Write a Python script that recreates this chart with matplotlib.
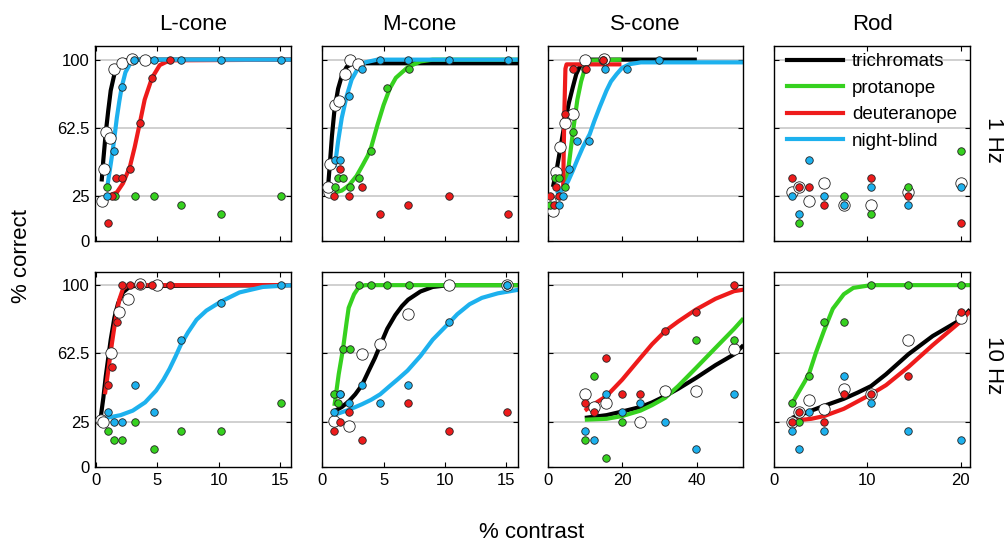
import matplotlib
matplotlib.use('Agg')
import matplotlib.pyplot as plt
from matplotlib.lines import Line2D

plt.rcParams['font.family'] = ['Liberation Sans', 'DejaVu Sans']

# ---------------- labels ----------------
col_titles = ['L-cone', 'M-cone', 'S-cone', 'Rod']
row_labels = ['1 Hz', '10 Hz']
group_names = ['trichromats', 'protanope', 'deuteranope', 'night-blind']
y_ticks = [0, 25, 62.5, 100]
y_tick_labels = ['0', '25', '62.5', '100']
x_ticks_cone = [0, 5, 10, 15]
x_ticks_s = [0, 20, 40]
x_ticks_rod = [0, 10, 20]

rod_contrast = [1.94, 2.73, 3.8, 5.36, 7.48, 10.4, 14.4, 20]
s10_contrast = [10, 12.4, 15.8, 20, 24.9, 31.5, 39.8, 50]

# ---------------- L-cone, 1 Hz ----------------
L1_tri = ([0.46, 0.65, 0.78, 1.14, 1.5, 2.1, 2.9, 4.0], [22, 40, 60, 57, 95, 98, 100.5, 100])
L1_pro = ([0.92, 1.54, 3.16, 4.7, 6.9, 10.2, 15.05], [30, 25, 25, 25, 20, 15, 25])
L1_deu = ([0.95, 1.27, 1.62, 2.16, 2.76, 3.57, 4.57, 6.0], [10, 25, 35, 35, 40, 65, 90, 100])
L1_nb = ([0.92, 1.46, 2.14, 3.1, 4.7, 6.9, 10.2, 15.05], [25, 50, 85, 100, 100, 100, 100, 100])
L1_tri_fit = ([0.46, 0.6, 0.8, 1.0, 1.2, 1.5, 1.9, 2.4, 3.0, 16], [33, 45, 60, 72, 83, 92, 97, 99.5, 100, 100])
L1_deu_fit = ([1.0, 1.7, 2.2, 2.76, 3.16, 3.57, 3.97, 4.57, 5.2, 6.0, 16],
              [25, 27, 32, 41, 52, 65, 78, 90, 97, 99.6, 100])
L1_nb_fit = ([0.92, 1.1, 1.3, 1.5, 1.7, 1.9, 2.1, 2.4, 2.8, 3.3, 16],
             [30, 38, 47, 57, 68, 77, 85, 93, 98, 100, 100])

# ---------------- M-cone, 1 Hz ----------------
M1_tri = ([0.54, 0.46, 0.68, 1.03, 1.35, 1.84, 2.3, 2.9], [27, 30, 42.5, 75, 77, 92, 100, 97.5])
M1_pro = ([1.03, 1.3, 1.7, 2.3, 2.97, 4.0, 5.3, 7.1], [30, 35, 35, 30, 35, 50, 84.5, 94.7])
M1_deu = ([1.0, 1.49, 2.16, 3.24, 4.73, 6.95, 10.3, 15.1], [25, 40, 25, 30, 15, 20, 25, 15])
M1_nb = ([1.03, 1.49, 2.22, 3.24, 4.73, 6.95, 10.3, 15.1], [45, 45, 80, 94.7, 100, 100, 100, 100])
M1_tri_fit = ([0.46, 0.6, 0.8, 1.0, 1.3, 1.6, 2.0, 2.5, 16], [28, 40, 58, 72, 84, 91, 96, 98, 98])
M1_pro_fit = ([1.03, 1.6, 2.2, 2.8, 3.3, 3.7, 4.0, 4.5, 5.0, 5.5, 6.0, 7.0, 8.0, 9.0, 16],
              [27, 28, 31, 36, 42, 47, 52, 64, 75, 84, 90, 96, 99, 100, 100])
M1_nb_fit = ([1.03, 1.3, 1.6, 2.0, 2.4, 2.9, 3.5, 4.5, 16], [41, 55, 68, 80, 89, 95, 98.5, 100, 100])

# ---------------- S-cone, 1 Hz ----------------
S1_tri = ([1.46, 0.74, 2.2, 3.25, 4.6, 6.8, 10.1, 15.0], [17, 22, 38, 52, 65, 70, 100, 100.5])
S1_pro = ([0.74, 1.9, 3.0, 4.6, 6.8, 10.0, 14.9], [20, 35, 35, 30, 60, 94.7, 100])
S1_deu = ([0.74, 1.7, 3.1, 2.2, 4.6, 6.8, 10.2, 14.9], [25, 20, 25, 30, 70, 94.7, 94.7, 100])
S1_nb = ([3.0, 4.1, 5.7, 7.9, 11.1, 15.5, 21.4, 29.8], [20, 25, 40, 55, 55, 94.7, 94.7, 100])
S1_tri_fit = ([1.46, 2.5, 3.5, 4.6, 5.7, 6.8, 7.7, 8.6, 9.5, 10.5, 40],
              [30, 40, 52, 65, 76, 85, 92, 96, 98.7, 100, 100])
S1_pro_fit = ([4.2, 5.0, 5.7, 6.8, 8.0, 9.0, 10.0, 11.3, 19.8], [28, 33, 42, 60, 78, 88, 95, 99.5, 100])
S1_deu_fit = ([4.2, 4.5, 4.8, 5.1, 19.8], [30, 70, 95, 97.4, 97.4])
S1_nb_fit = ([2.4, 4.0, 5.5, 6.8, 8.0, 9.5, 11.3, 12.5, 14.0, 15.8, 17.0, 18.5, 20.0, 22.0, 25.0, 52.5],
             [26, 28.5, 33, 39, 45, 52, 59, 66, 74, 83, 88, 92, 95.5, 97.5, 98.5, 98.5])

# ---------------- Rod, 1 Hz ----------------
R1_tri = (rod_contrast, [27, 30, 22, 32, 20, 20, 27, 32])
R1_pro = ([2.73, 7.48, 10.4, 14.4, 20], [10, 25, 15, 30, 50])
R1_deu = ([1.94, 2.73, 3.8, 5.36, 10.4, 14.4, 20], [35, 30, 30, 20, 35, 25, 10])
R1_nb = (rod_contrast, [25, 15, 45, 25, 20, 30, 20, 30])

# ---------------- L-cone, 10 Hz ----------------
L10_tri = ([0.4, 0.6, 1.19, 1.9, 2.57, 3.57, 5.0], [26, 25, 62.5, 85, 92.5, 100.5, 100])
L10_pro = ([0.95, 1.46, 2.14, 3.16, 4.7, 6.9, 10.2, 15.05], [20, 15, 15, 25, 10, 20, 20, 35])
L10_deu = ([0.95, 1.27, 1.68, 2.14, 2.76, 3.57, 4.57, 6.0], [45, 55, 80, 100, 100, 100, 100, 100])
L10_nb = ([0.95, 1.46, 2.14, 3.16, 4.7, 6.9, 10.2, 15.05], [30, 25, 25, 45, 30, 70, 90, 100])
L10_tri_fit = ([0.4, 0.6, 0.8, 1.0, 1.2, 1.5, 1.8, 2.2, 2.8, 16], [28, 38, 50, 60, 70, 82, 90, 96, 99.5, 100])
L10_deu_fit = ([0.73, 0.9, 1.1, 1.3, 1.5, 1.7, 1.9, 2.2, 2.6, 16], [40, 48, 58, 68, 77, 85, 92, 98, 100, 100])
L10_nb_fit = ([0.86, 2.0, 3.0, 4.0, 4.9, 5.5, 6.0, 6.5, 6.9, 7.5, 8.2, 9.0, 10.2, 11.7, 13.6, 16],
              [27, 28.5, 31, 35.5, 42, 48, 54, 61, 67, 74, 81, 86, 91, 96, 99, 100])

# ---------------- M-cone, 10 Hz ----------------
M10_tri = ([0.95, 2.16, 3.24, 4.73, 6.95, 10.3, 15.05], [25.4, 22.6, 62.3, 67.4, 84.4, 100, 100])
M10_pro = ([1.0, 1.3, 1.49, 1.7, 2.3, 2.97, 4.0, 5.3, 7.1, 15.05], [40, 35, 40, 65, 65, 100, 100, 100, 100, 100])
M10_deu = ([1.0, 1.49, 2.16, 3.24, 6.95, 10.3, 15.05], [20, 25, 30, 15, 35, 20, 30])
M10_nb = ([1.0, 1.49, 2.22, 3.24, 4.73, 6.95, 10.3, 15.05], [30, 40, 35, 45, 35, 45, 80, 100])
M10_tri_fit = ([1.08, 1.6, 2.16, 2.7, 3.24, 3.8, 4.3, 4.73, 5.3, 5.95, 6.5, 7.0, 8.0, 9.0, 10.3, 16],
               [31, 33, 36, 40, 45, 53, 60, 67, 76, 83.5, 88.5, 92, 96.5, 99, 100, 100])
M10_pro_fit = ([1.0, 1.35, 1.7, 2.0, 2.16, 2.6, 3.0, 3.5, 16], [33.6, 51, 65, 80, 87.5, 95, 99, 100, 100])
M10_nb_fit = ([1.0, 2.2, 3.24, 4.0, 4.73, 5.5, 6.2, 6.95, 8.0, 9.0, 10.3, 11.0, 12.0, 13.0, 14.3, 16],
              [28.7, 31.5, 34.5, 37, 40, 44.5, 48.5, 53, 61, 70, 79, 84, 89.5, 93, 95.5, 97.5])

# ---------------- S-cone, 10 Hz ----------------
S10_tri = ([10, 12.4, 15.8, 24.9, 31.5, 39.8, 50], [40, 33, 35, 25, 42, 42, 65])
S10_pro = ([10, 12.4, 15.8, 20, 39.8, 50], [15, 50, 5, 25, 70, 70])
S10_deu = (s10_contrast, [35, 30, 60, 40, 40, 75, 85, 100])
S10_nb = (s10_contrast, [20, 15, 40, 30, 35, 25, 10, 40])
S10_tri_fit = ([10, 15.8, 20, 24.9, 28, 31.5, 35, 39.8, 45, 50, 52.5],
               [27, 28.5, 30.5, 33, 35.5, 39, 43, 49, 56, 62, 67])
S10_pro_fit = ([10, 15.8, 20, 24.9, 28, 31.5, 35, 39.8, 45, 50, 52.5],
               [26, 26.5, 28, 31, 34, 38, 44.5, 54.5, 65.5, 76, 81.7])
S10_deu_fit = ([10, 12.4, 15.8, 20, 24.9, 28, 31.5, 35, 39.8, 45, 50, 52.5],
               [31, 34.5, 39, 48, 60, 67.5, 74.7, 80, 86.6, 92.5, 96.7, 97.5])

# ---------------- Rod, 10 Hz ----------------
R10_tri = (rod_contrast, [25, 30, 37, 32, 43, 40, 70, 82])
R10_pro = (rod_contrast, [35, 25, 50, 80, 80, 100, 100, 100])
R10_deu = ([1.94, 2.73, 5.36, 7.48, 10.4, 14.4, 20], [25, 30, 25, 40, 40, 50, 85])
R10_nb = (rod_contrast, [20, 10, 30, 20, 50, 35, 20, 15])
R10_tri_fit = ([1.94, 3.0, 4.0, 5.36, 7.48, 9.0, 10.4, 12.0, 14.4, 17.0, 20.0, 21.0],
               [27, 29, 31, 33.6, 37.5, 41, 44.5, 51, 62, 72, 81, 86.6])
R10_pro_fit = ([1.94, 2.73, 3.3, 3.8, 4.5, 5.36, 6.3, 7.48, 8.5, 10.4, 21],
               [35, 42, 47, 52, 63, 75, 87, 95, 98.5, 100, 100])
R10_deu_fit = ([1.94, 4.0, 5.36, 7.48, 10.4, 12.0, 14.4, 17.0, 20.0, 21.0],
               [25.4, 26.5, 28, 32, 40, 45, 55, 67, 80, 85.7])

# ---------------- styling ----------------
COLORS = {'tri': 'black', 'pro': '#36d11f', 'deu': '#ee1b1b', 'nb': '#1db1ee'}
ORDER = ['tri', 'pro', 'deu', 'nb']

panels = [
    [dict(pts=dict(tri=L1_tri, pro=L1_pro, deu=L1_deu, nb=L1_nb),
          fits=dict(tri=L1_tri_fit, deu=L1_deu_fit, nb=L1_nb_fit), xlim=(-0.08, 15.9), xt=x_ticks_cone),
     dict(pts=dict(tri=M1_tri, pro=M1_pro, deu=M1_deu, nb=M1_nb),
          fits=dict(tri=M1_tri_fit, pro=M1_pro_fit, nb=M1_nb_fit), xlim=(-0.05, 15.9), xt=x_ticks_cone),
     dict(pts=dict(tri=S1_tri, pro=S1_pro, deu=S1_deu, nb=S1_nb),
          fits=dict(tri=S1_tri_fit, pro=S1_pro_fit, deu=S1_deu_fit, nb=S1_nb_fit), xlim=(0, 52.5), xt=x_ticks_s),
     dict(pts=dict(tri=R1_tri, pro=R1_pro, deu=R1_deu, nb=R1_nb),
          fits=dict(), xlim=(0, 21), xt=x_ticks_rod)],
    [dict(pts=dict(tri=L10_tri, pro=L10_pro, deu=L10_deu, nb=L10_nb),
          fits=dict(tri=L10_tri_fit, deu=L10_deu_fit, nb=L10_nb_fit), xlim=(-0.08, 15.9), xt=x_ticks_cone),
     dict(pts=dict(tri=M10_tri, pro=M10_pro, deu=M10_deu, nb=M10_nb),
          fits=dict(tri=M10_tri_fit, pro=M10_pro_fit, nb=M10_nb_fit), xlim=(-0.05, 15.9), xt=x_ticks_cone),
     dict(pts=dict(tri=S10_tri, pro=S10_pro, deu=S10_deu, nb=S10_nb),
          fits=dict(tri=S10_tri_fit, pro=S10_pro_fit, deu=S10_deu_fit), xlim=(0, 52.5), xt=x_ticks_s),
     dict(pts=dict(tri=R10_tri, pro=R10_pro, deu=R10_deu, nb=R10_nb),
          fits=dict(tri=R10_tri_fit, pro=R10_pro_fit, deu=R10_deu_fit), xlim=(0, 21), xt=x_ticks_rod)],
]

W, H = 1008, 544
fig = plt.figure(figsize=(W / 100, H / 100), dpi=100)

col_left = [95, 321.5, 547.5, 774]
ax_w = 196
row_top = [46, 271.5]
ax_h = 195.5

for r in range(2):
    for c in range(4):
        p = panels[r][c]
        ax = fig.add_axes([col_left[c] / W, 1 - (row_top[r] + ax_h) / H, ax_w / W, ax_h / H])
        ax.set_xlim(*p['xlim'])
        ax.set_ylim(0, 107.5)
        for yv in [25, 62.5, 100]:
            ax.axhline(yv, color='#c8c8c8', lw=1.2, zorder=1)
        for i, g in enumerate(ORDER):
            if g in p['fits']:
                fx, fy = p['fits'][g]
                ax.plot(fx, fy, color=COLORS[g], lw=3.0, solid_joinstyle='round',
                        solid_capstyle='butt', zorder=2 + i * 0.1)
        tx, ty = p['pts']['tri']
        ax.plot(tx, ty, 'o', ms=8.2, mfc='white', mec='#222222', mew=0.6, zorder=5)
        for i, g in enumerate(['pro', 'deu', 'nb']):
            gx, gy = p['pts'][g]
            ax.plot(gx, gy, 'o', ms=5.4, mfc=COLORS[g], mec='#222222', mew=0.6, zorder=6 + i * 0.1)
        ax.set_yticks(y_ticks)
        ax.set_xticks(p['xt'])
        ax.tick_params(direction='in', top=True, right=True, length=3.5, width=0.8,
                       labelsize=12, pad=4)
        if c == 0:
            ax.set_yticklabels(y_tick_labels)
        else:
            ax.set_yticklabels([])
        if r == 0:
            ax.set_xticklabels([])
        else:
            ax.set_xticklabels([str(v) for v in p['xt']])
        for s in ax.spines.values():
            s.set_linewidth(1.0)
        if r == 0 and c == 3:
            handles = [Line2D([], [], color=COLORS[g], lw=3.0) for g in ORDER]
            ax.legend(handles, group_names, loc='upper left', bbox_to_anchor=(0.0, 1.03),
                      frameon=False, fontsize=13.5, handlelength=3.0, handletextpad=0.45,
                      labelspacing=0.5, borderaxespad=0.3)

for c, t in enumerate(col_titles):
    fig.text((col_left[c] + ax_w / 2) / W, 1 - 24 / H, t, ha='center', va='center', fontsize=16)
for r, t in enumerate(row_labels):
    fig.text(993 / W, 1 - (row_top[r] + ax_h / 2 - 4) / H, t, ha='center', va='center',
             rotation=-90, fontsize=16)
fig.text(22 / W, 1 - 256 / H, '% correct', ha='center', va='center', rotation=90, fontsize=16)
fig.text(532 / W, 1 - 532 / H, '% contrast', ha='center', va='center', fontsize=16)

fig.savefig('out.png', dpi=100)
